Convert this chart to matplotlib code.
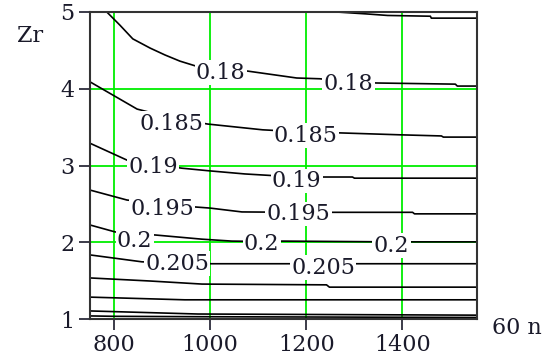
import matplotlib
matplotlib.use("Agg")
import matplotlib.pyplot as plt

# contour lines (x = 60n, y = Zr)
x_175 = [1263, 1325, 1369, 1458, 1460, 1555]
y_175 = [5.0, 4.975, 4.955, 4.945, 4.92, 4.92]

x_180 = [785, 812, 839, 875, 906, 937, 968, 1024, 1078, 1180, 1228, 1288, 1346, 1510, 1514, 1555]
y_180 = [5.0, 4.83, 4.65, 4.53, 4.44, 4.36, 4.30, 4.26, 4.23, 4.14, 4.13, 4.09, 4.075, 4.06, 4.035, 4.035]

x_185 = [750, 848, 920, 995, 1109, 1199, 1269, 1394, 1481, 1485, 1555]
y_185 = [4.09, 3.735, 3.62, 3.54, 3.465, 3.435, 3.425, 3.40, 3.385, 3.37, 3.37]

x_190 = [750, 827, 881, 941, 999, 1072, 1180, 1296, 1300, 1555]
y_190 = [3.29, 3.07, 3.02, 2.965, 2.93, 2.89, 2.85, 2.85, 2.835, 2.835]

x_195 = [750, 827, 900, 968, 1000, 1066, 1184, 1421, 1425, 1555]
y_195 = [2.68, 2.55, 2.50, 2.46, 2.445, 2.395, 2.39, 2.39, 2.37, 2.37]

x_200 = [750, 802, 843, 885, 983, 1045, 1107, 1151, 1377, 1555]
y_200 = [2.225, 2.135, 2.10, 2.095, 2.04, 2.015, 2.01, 2.015, 2.005, 2.005]

x_205 = [750, 858, 931, 1003, 1165, 1307, 1555]
y_205 = [1.835, 1.745, 1.73, 1.72, 1.72, 1.72, 1.72]

x_210 = [750, 875, 983, 1242, 1248, 1555]
y_210 = [1.535, 1.495, 1.455, 1.445, 1.415, 1.415]

x_215 = [750, 947, 1555]
y_215 = [1.285, 1.25, 1.25]

x_220 = [750, 974, 1555]
y_220 = [1.105, 1.065, 1.05]

x_225 = [750, 800, 974, 1555]
y_225 = [1.04, 1.035, 1.03, 1.02]

lines = [(x_175, y_175), (x_180, y_180), (x_185, y_185), (x_190, y_190),
         (x_195, y_195), (x_200, y_200), (x_205, y_205), (x_210, y_210),
         (x_215, y_215), (x_220, y_220), (x_225, y_225)]

# inline labels
label_text = ["0.18", "0.18", "0.185", "0.185", "0.19", "0.19", "0.195", "0.195",
              "0.2", "0.2", "0.2", "0.205", "0.205"]
label_x = [1022, 1288, 920, 1199, 881, 1180, 900, 1184, 843, 1107, 1377, 931, 1235]
label_y = [4.21, 4.065, 3.545, 3.39, 2.98, 2.80, 2.436, 2.37, 2.02, 1.98, 1.955, 1.72, 1.67]

x_ticks = [800, 1000, 1200, 1400]
y_ticks = [1, 2, 3, 4, 5]

plt.rcParams['font.family'] = ['DejaVu Serif']

fig = plt.figure(figsize=(5.46, 3.56), dpi=100)
ax = fig.add_axes([90/546, 1-319/356, (477-90)/546, (319-12)/356])

for v in x_ticks:
    ax.axvline(v, color='#00ee00', lw=1.3, zorder=1)
for v in [2, 3, 4]:
    ax.axhline(v, color='#00ee00', lw=1.3, zorder=1)

for xs, ys in lines:
    ax.plot(xs, ys, color='black', lw=1.2, zorder=2)

for t, x, y in zip(label_text, label_x, label_y):
    ax.text(x, y, t, fontsize=16, ha='center', va='center', color='#1a1a2a',
            zorder=3, bbox=dict(boxstyle='square,pad=0.06', fc='white', ec='none'))

ax.set_xlim(750, 1555)
ax.set_ylim(1, 5)
ax.set_xticks(x_ticks)
ax.set_yticks(y_ticks)
ax.tick_params(direction='out', length=8, width=1.2, labelsize=16, colors='#1a1a2a', pad=3)
for s in ax.spines.values():
    s.set_linewidth(1.5)
    s.set_color('#333333')

fig.text(30/546, 1-36/356, "Zr", fontsize=16, ha='center', va='center', color='#1a1a2a')
fig.text(517/546, 1-328/356, "60 n", fontsize=16, ha='center', va='center', color='#1a1a2a')

fig.savefig("out.png", dpi=100)
